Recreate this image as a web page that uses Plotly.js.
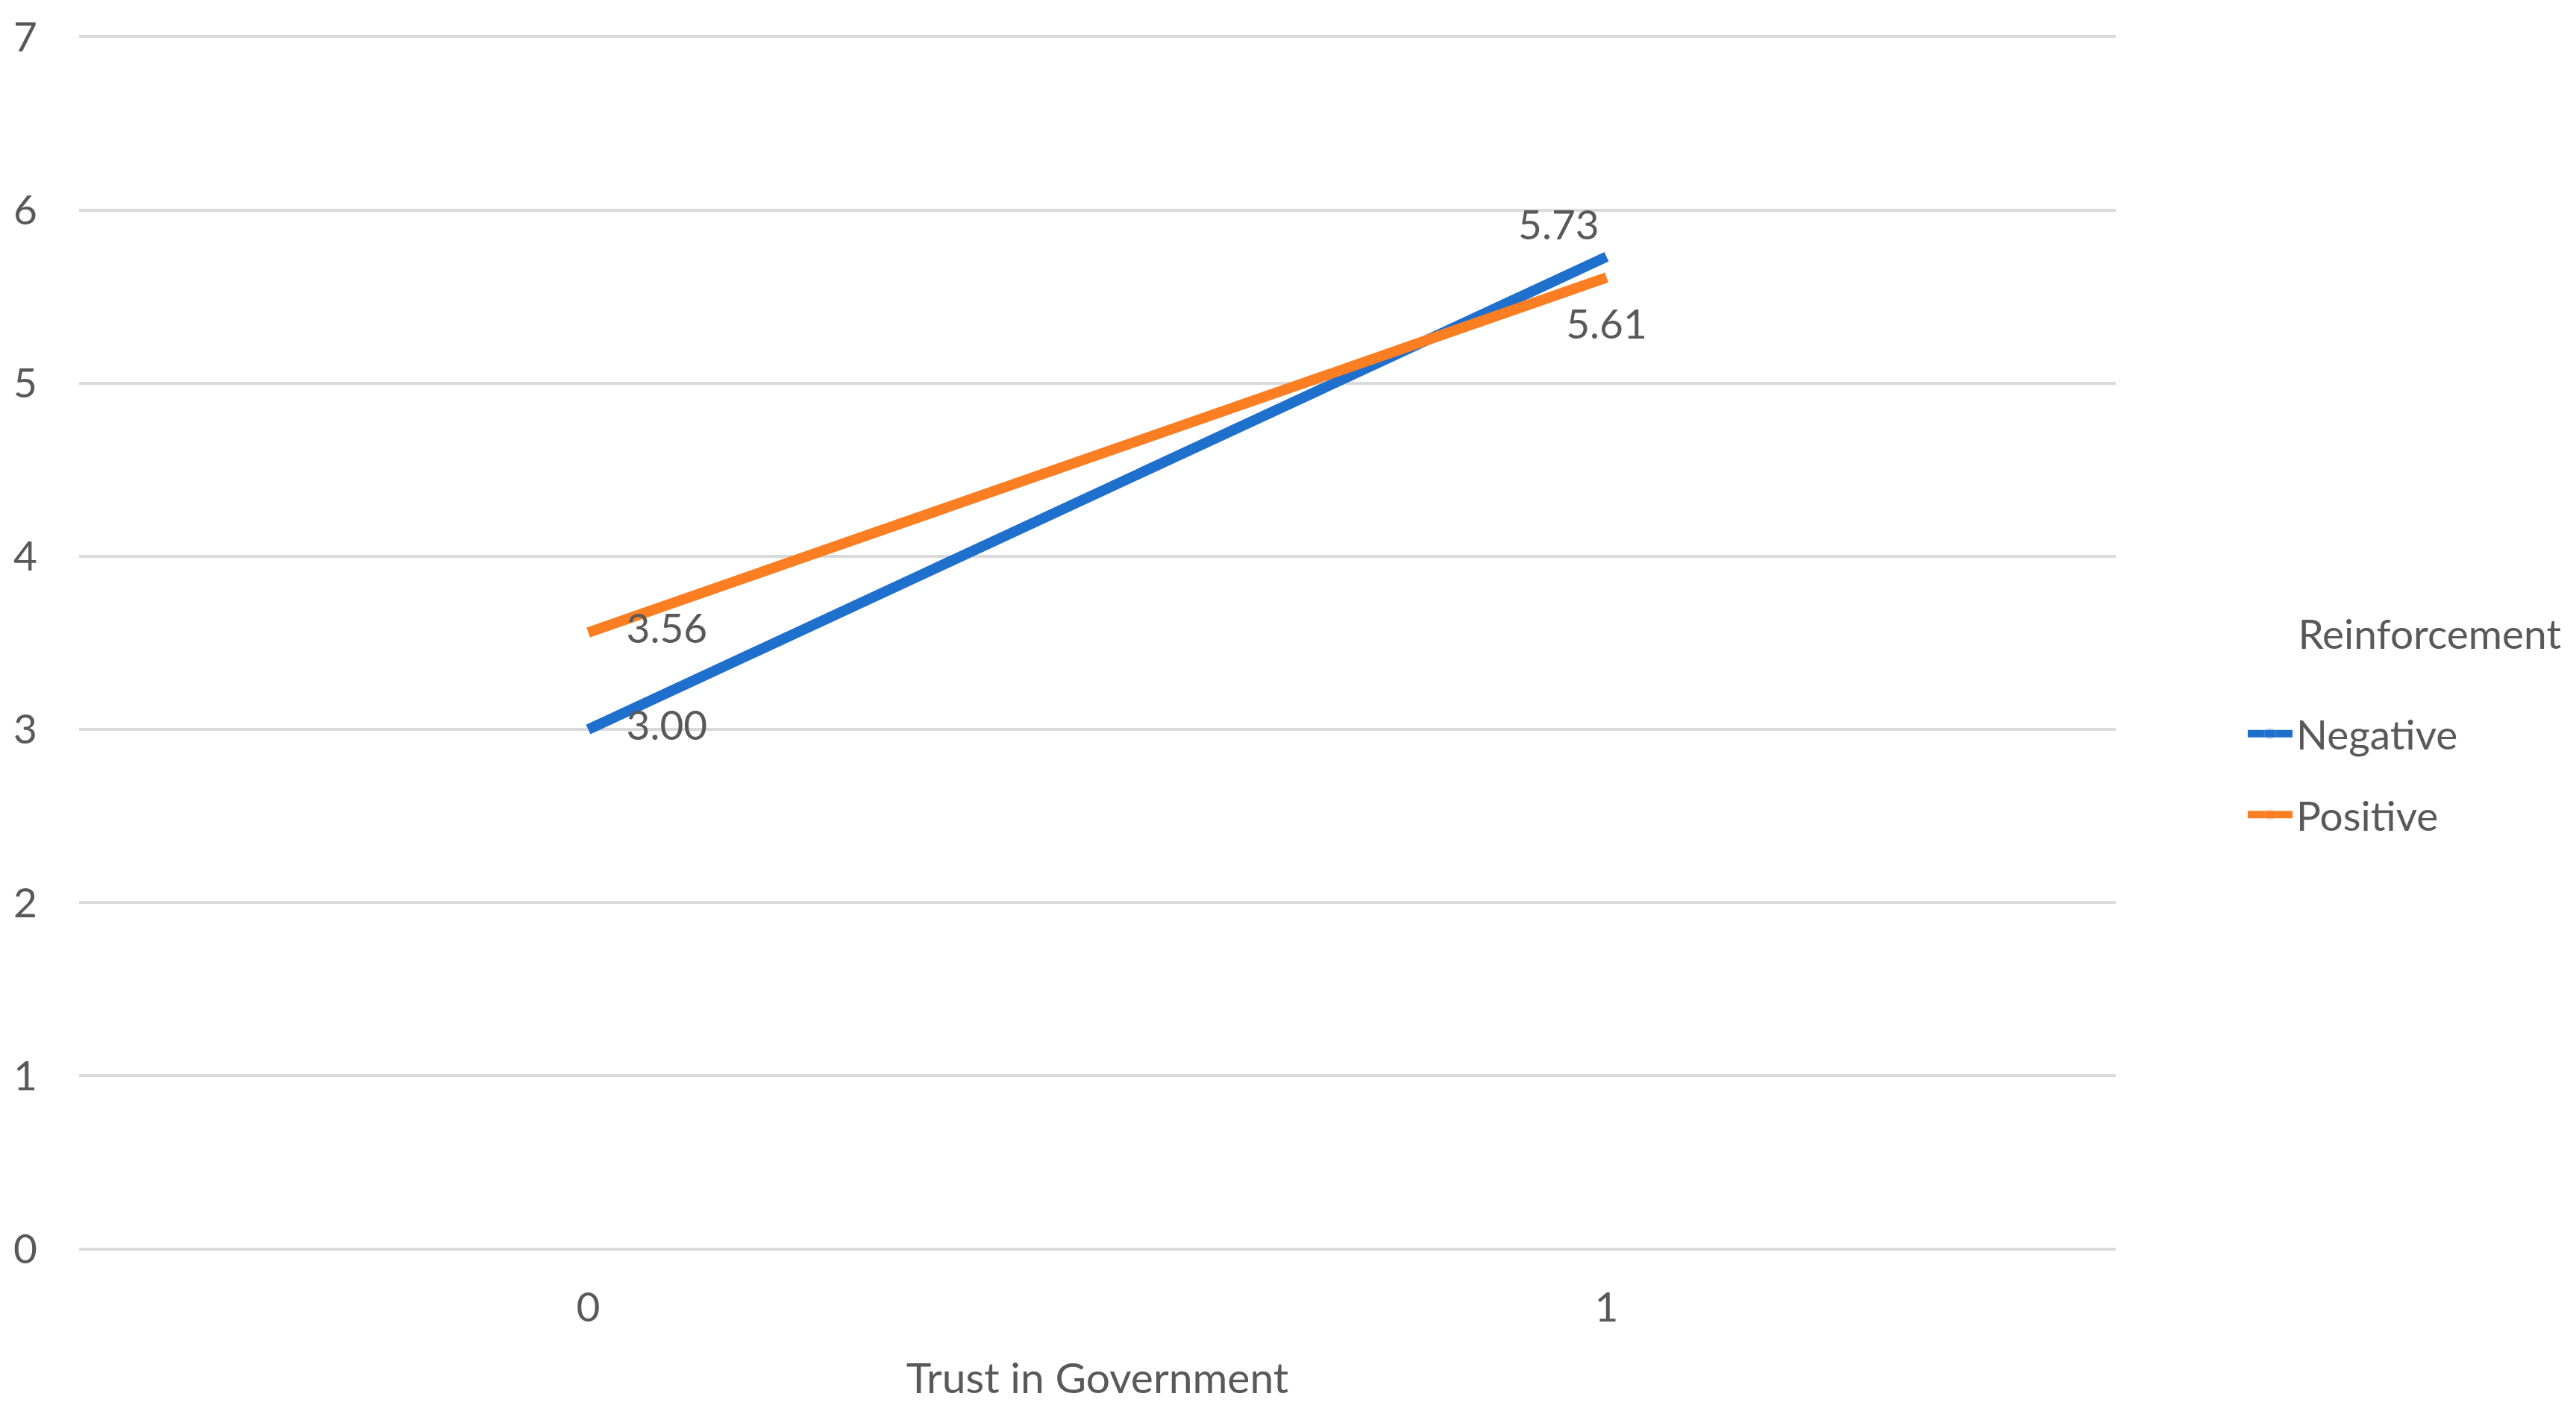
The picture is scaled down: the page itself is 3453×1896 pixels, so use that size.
<!DOCTYPE html>
<html>
<head>
<meta charset="utf-8">
<script src="https://cdn.plot.ly/plotly-3.0.1.min.js"></script>
<style>
  html, body { margin: 0; padding: 0; background: #fff; }
  #chart { width: 3453px; height: 1896px; }
</style>
</head>
<body>
<div id="chart"></div>
<script>
// chart data
var trustLevels = ['0', '1'];
var negativeMeans = [3.00, 5.73];
var positiveMeans = [3.56, 5.61];
var negativeLabelPos = ['middle right', 'top left'];
var positiveLabelPos = ['middle right', 'bottom center'];
var yTicks = [0, 1, 2, 3, 4, 5, 6, 7];

const FONT = 'Lato, "Open Sans", sans-serif';
const GREY = '#595959';
const FS = 55;

// invisible markers only push the value labels away from the line ends
function makeTrace(name, values, positions, color, group, sizes) {
    return {
        x: trustLevels,
        y: values,
        name: name,
        legendgroup: group,
        type: 'scatter',
        mode: 'lines+markers+text',
        line: { color: color, width: 14 },
        marker: { size: sizes, color: color, opacity: 0 },
        text: values.map(function (v) { return v.toFixed(2); }),
        textposition: positions,
        textfont: { family: FONT, size: FS, color: GREY },
        hoverinfo: 'none'
    };
}

var negTrace = makeTrace('Negative', negativeMeans, negativeLabelPos, '#1F6FCC', 'neg', [80, 14]);
var posTrace = makeTrace('Positive', positiveMeans, positiveLabelPos, '#FB7E23', 'pos', [80, 64]);

var layout = {
    width: 3453,
    height: 1896,
    paper_bgcolor: '#ffffff',
    plot_bgcolor: '#ffffff',
    font: { family: FONT, size: FS, color: GREY },
    margin: { l: 106, r: 617, t: 48, b: 220 },
    showlegend: true,
    legend: {
        title: {
            text: '\u00a0\u00a0\u00a0\u00a0\u00a0Reinforcement<br>\u00a0',
            side: 'top',
            font: { family: FONT, size: FS, color: GREY }
        },
        x: 1.063,
        xanchor: 'left',
        y: 0.539,
        yanchor: 'top',
        font: { family: FONT, size: FS, color: GREY },
        itemwidth: 60,
        tracegroupgap: 34
    },
    xaxis: {
        type: 'category',
        categoryorder: 'array',
        categoryarray: trustLevels,
        range: [-0.5, 1.5],
        showgrid: false,
        zeroline: false,
        showline: false,
        ticks: '',
        ticklabelstandoff: 40,
        tickfont: { family: FONT, size: FS, color: GREY },
        title: {
            text: 'Trust in Government',
            standoff: 45,
            font: { family: FONT, size: 57, color: GREY }
        }
    },
    yaxis: {
        range: [-0.006, 7.006],
        tickvals: yTicks,
        ticktext: yTicks.map(String),
        showgrid: true,
        gridcolor: '#DADADA',
        gridwidth: 4,
        zeroline: false,
        showline: false,
        ticks: '',
        ticklabelstandoff: 55,
        tickfont: { family: FONT, size: FS, color: GREY }
    }
};

Plotly.newPlot('chart', [negTrace, posTrace], layout, { staticPlot: true });
</script>
</body>
</html>
